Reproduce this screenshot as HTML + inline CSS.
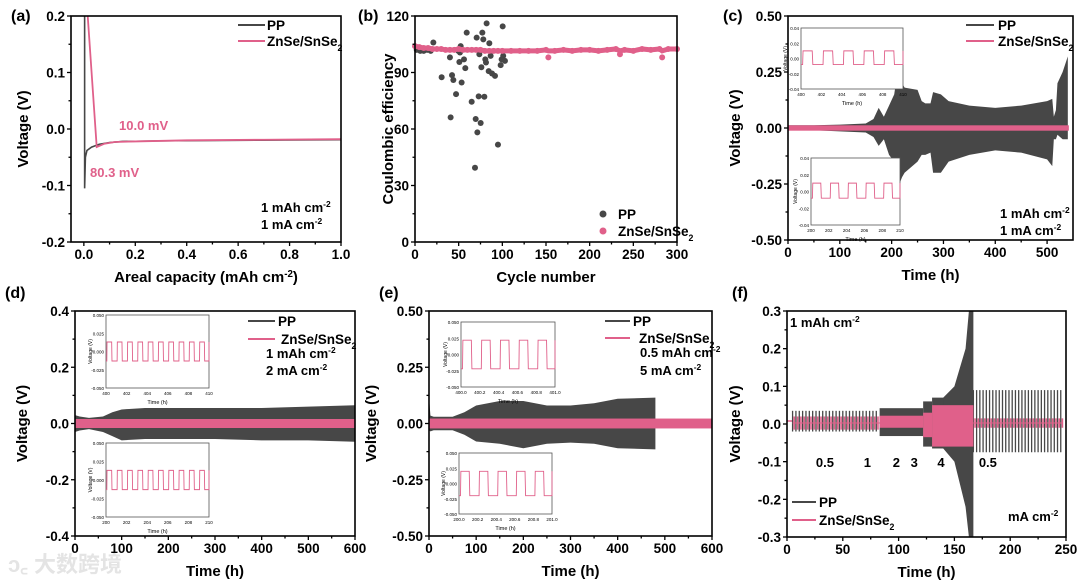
<!DOCTYPE html>
<html><head><meta charset="utf-8"><style>
html,body{margin:0;padding:0;background:#fff;}
svg{display:block;font-family:"Liberation Sans","Noto Sans CJK SC",sans-serif;font-weight:bold;}
</style></head><body>
<svg id="fig" width="1080" height="584" viewBox="0 0 1080 584" xmlns="http://www.w3.org/2000/svg">
<text x="8" y="572" font-size="22" fill="#e4e4e4">ↄ꜀ 大数跨境</text>
</svg>
<script>
// ---------- DATA ----------
// (a)
const aPPx=[0.003,0.003,0.006,0.012,0.03,0.06,0.1,0.15,0.3,0.6,1.0];
const aPPy=[0.2,-0.105,-0.05,-0.038,-0.032,-0.027,-0.024,-0.022,-0.021,-0.02,-0.019];
const aZnx=[0.015,0.05,0.08,0.12,0.2,0.4,0.7,1.0];
const aZny=[0.2,-0.032,-0.026,-0.023,-0.022,-0.02,-0.019,-0.018];
// (b)
const bPPcyc=[2,6,10,14,18,21,30.5,40,40.8,42.4,43.9,47,51.5,53.4,50.8,52.3,56.1,57.6,59.2,64.9,68.7,69.5,70.6,71.4,72.9,73.7,75.2,76,77.1,78.2,79.4,80.5,81.3,82,84.4,85.1,86.6,88.2,91.6,95,98.1,100.4,101,103,99.2,49.6];
const bPPce=[102,101.5,101.5,102,101.5,105.9,87.5,98,66.2,88.6,86,78.5,100.6,84.7,95.6,104,97,92.3,111.2,74.5,39.4,65.3,108.5,58.2,77.3,99.7,63.2,92.8,111.2,107.6,77.1,97,95.3,116.1,90.7,105.5,98.8,89.5,88.2,51.7,93.9,114.5,98.8,96.2,97,101.5];
const bZnCyc=[0,5,10,15,20,25,30,35,40,45,50,55,60,65,70,75,80,85,90,95,100,110,120,130,140,150,152.7,160,170,180,190,200,210,220,230,234.7,240,250,260,270,280,283,290,300];
const bZnCe=[104,103.5,103,103,102.5,102.5,102.5,102,102,102,102.5,102,102,102,102,102,101.5,101.5,101.5,101.5,101.5,101.5,101.5,101.5,101.5,102,98,101.5,102,101.5,102,102,101.5,102,102.5,99.7,102,101.5,102.5,102,102.5,98,102.5,102.5];
// (c)
const cT=[0,50,100,150,165,175,185,195,205,215,220,225,250,258,265,275,280,295,310,350,400,450,500,510,513,517,520,530,540];
const cUp=[0.012,0.012,0.015,0.02,0.04,0.09,0.05,0.1,0.15,0.31,0.2,0.18,0.17,0.12,0.11,0.11,0.16,0.15,0.12,0.1,0.09,0.1,0.12,0.13,0.05,0.08,0.2,0.25,0.32];
const cLo=[-0.01,-0.01,-0.015,-0.02,-0.04,-0.08,-0.05,-0.12,-0.15,-0.25,-0.22,-0.2,-0.15,-0.12,-0.12,-0.11,-0.2,-0.2,-0.15,-0.12,-0.1,-0.11,-0.14,-0.17,-0.05,-0.05,-0.03,-0.05,-0.05];
const cZnEnd=542, cZnAmp=0.012;
// (d)
const dT=[0,10,30,60,80,100,150,200,300,400,500,600];
const dUp=[0.03,0.025,0.02,0.025,0.04,0.05,0.055,0.055,0.055,0.055,0.06,0.065];
const dLo=[-0.03,-0.025,-0.02,-0.03,-0.045,-0.06,-0.055,-0.055,-0.055,-0.06,-0.06,-0.065];
const dZnAmp=0.016;
// (e)
const eT=[0,3,10,50,75,100,150,200,250,300,350,400,480];
const eUp=[0.12,0.035,0.03,0.03,0.05,0.08,0.1,0.1,0.08,0.08,0.09,0.11,0.115];
const eLo=[-0.03,-0.035,-0.03,-0.03,-0.05,-0.08,-0.09,-0.11,-0.09,-0.085,-0.09,-0.11,-0.115];
const eZnAmp=0.022;
// (f)
const fSegStart=[5,83,122,130,167];
const fSegEnd=[83,122,130,167,247];
const fPPup=[0.035,0.042,0.06,0.07,0.09];
const fPPlo=[-0.02,-0.032,-0.06,-0.065,-0.075];
const fZnUp=[0.02,0.022,0.03,0.05,0.015];
const fZnLo=[-0.015,-0.01,-0.035,-0.06,-0.01];
const fSpikeT=[140,150,155,160,163,167];
const fSpikeUp=[0.07,0.1,0.15,0.2,0.3,0.3];
const fSpikeLo=[-0.065,-0.1,-0.16,-0.22,-0.3,-0.3];

// ---------- HELPERS ----------
const svg=document.getElementById('fig');
const NS='http://www.w3.org/2000/svg';
const GREY='#474747', PINK='#e0608a';
function mk(parent,tag,attrs,txt){const e=document.createElementNS(NS,tag);for(const k in attrs)e.setAttribute(k,attrs[k]);if(txt!==undefined)e.textContent=txt;parent.appendChild(e);return e;}
function scale(d0,d1,p0,p1){return v=>p0+(v-d0)/(d1-d0)*(p1-p0);}
function supText(parent,x,y,parts,size,fill,anchor,name){
  const t=mk(parent,'text',{x:x,y:y,'font-size':size,fill:fill,'text-anchor':anchor||'start'});
  
  
  parts.forEach(p=>{mk(t,'tspan',p[1]?{'baseline-shift':p[1]==='sup'?'super':'sub','font-size':size*0.65}:{},p[0]);});
  return t;
}
function panel(cfg){
  const g=mk(svg,'g',{});
  
  
  const X=scale(cfg.xd[0],cfg.xd[1],cfg.L,cfg.R), Y=scale(cfg.yd[0],cfg.yd[1],cfg.B,cfg.T);
  const plot=mk(g,'g',{});
  
  
  const ax=mk(g,'g',{stroke:'#000','stroke-width':1.3});
  
  
  cfg.xt.forEach((v,i)=>{
    const x=X(v);
    const tk=mk(ax,'line',{x1:x,x2:x,y1:cfg.B,y2:cfg.B+4});
    
    const lb=mk(g,'text',{x:x,y:cfg.B+17,'font-size':13.5,'text-anchor':'middle'},cfg.xl[i]);
    
    
    if(i<cfg.xt.length-1){const mx=X((v+cfg.xt[i+1])/2);const m=mk(ax,'line',{x1:mx,x2:mx,y1:cfg.B,y2:cfg.B+2.5});}
  });
  cfg.yt.forEach((v,i)=>{
    const y=Y(v);
    const tk=mk(ax,'line',{x1:cfg.L-4,x2:cfg.L,y1:y,y2:y});
    
    const lb=mk(g,'text',{x:cfg.L-6,y:y+5,'font-size':13.5,'text-anchor':'end'},cfg.yl[i]);
    
    
    if(i<cfg.yt.length-1){const my=Y((v+cfg.yt[i+1])/2);const m=mk(ax,'line',{x1:cfg.L-2.5,x2:cfg.L,y1:my,y2:my});}
  });
  const frame=mk(g,'rect',{x:cfg.L,y:cfg.T,width:cfg.R-cfg.L,height:cfg.B-cfg.T,fill:'none',stroke:'#000','stroke-width':1.6});
  
  
  const pl=mk(g,'text',{x:cfg.px,y:cfg.py,'font-size':16},cfg.label);
  
  
  const yt=mk(g,'text',{x:cfg.ytx,y:(cfg.T+cfg.B)/2,'font-size':15,'text-anchor':'middle',transform:`rotate(-90 ${cfg.ytx} ${(cfg.T+cfg.B)/2})`},cfg.ytitle);
  
  
  if(cfg.xtitleParts){supText(g,(cfg.L+cfg.R)/2,cfg.B+40,cfg.xtitleParts,15,'#000','middle','x-axis-title');}
  else{const xt=mk(g,'text',{x:(cfg.L+cfg.R)/2,y:cfg.B+40,'font-size':15,'text-anchor':'middle'},cfg.xtitle);
  
  }
  return {g,plot,X,Y,cfg};
}
function ticksArr(a,b,s){const r=[];for(let v=a;v<=b+1e-9;v+=s)r.push(+v.toFixed(6));return r;}
function envelope(P,ts,up,lo,fill,name){
  let pts=ts.map((t,i)=>P.X(t)+','+P.Y(up[i]));
  for(let i=ts.length-1;i>=0;i--)pts.push(P.X(ts[i])+','+P.Y(lo[i]));
  const p=mk(P.plot,'polygon',{points:pts.join(' '),fill:fill});
  
  
  return p;
}
function band(P,t0,t1,up,lo,fill,name){
  const r=mk(P.plot,'rect',{x:P.X(t0),y:P.Y(up),width:P.X(t1)-P.X(t0),height:P.Y(lo)-P.Y(up),fill:fill});
  
  
}
function legendLine(g,x1,x2,y,color,label,tx,name,parts){
  const l=mk(g,'line',{x1:x1,x2:x2,y1:y,y2:y,stroke:color,'stroke-width':2});
  
  
  supText(g,tx,y+5,parts||[[label]],13.5,'#000','start',name);
}
const ZNPARTS=[['ZnSe/SnSe'],['2','sub']];
function inset(g,x0,y0,x1,y1,ylabels,xlabels,hi,lo,n,name){
  const ig=mk(g,'g',{});
  
  
  const fr=mk(ig,'rect',{x:x0,y:y0,width:x1-x0,height:y1-y0,fill:'#fff',stroke:'#555','stroke-width':0.8});
  
  const yv=ylabels.map(Number), ymin=Math.min(...yv), ymax=Math.max(...yv);
  const Y=scale(ymin,ymax,y1,y0);
  ylabels.forEach(l=>{const t=mk(ig,'text',{x:x0-2,y:Y(+l)+2,'font-size':4.5,'font-weight':'normal','text-anchor':'end'},l);});
  xlabels.forEach((l,i)=>{const x=x0+(x1-x0)*i/(xlabels.length-1);const t=mk(ig,'text',{x:x,y:y1+7,'font-size':4.5,'font-weight':'normal','text-anchor':'middle'},l);});
  const xt=mk(ig,'text',{x:(x0+x1)/2,y:y1+16,'font-size':5.5,'font-weight':'normal','text-anchor':'middle'},'Time (h)');
  
  const ym=(y0+y1)/2;
  const yt=mk(ig,'text',{x:x0-14,y:ym,'font-size':5,'font-weight':'normal','text-anchor':'middle',transform:`rotate(-90 ${x0-14} ${ym})`},'Voltage (V)');
  
  const w=(x1-x0)/n; let d=`M${x0} ${Y(lo)}`;
  for(let i=0;i<n;i++){const a=x0+i*w;d+=` L${a+w*0.08} ${Y(lo)} L${a+w*0.1} ${Y(hi)} L${a+w*0.55} ${Y(hi)} L${a+w*0.58} ${Y(lo)}`;}
  d+=` L${x1} ${Y(lo)} L${x1} ${Y(hi)}`;
  const p=mk(ig,'path',{d:d,fill:'none',stroke:PINK,'stroke-width':0.9});
  
}

// ---------- PANEL A ----------
const A=panel({name:'panel-a',label:'(a)',px:11,py:21,L:71,R:341,T:16,B:242,xd:[-0.05,1.0],yd:[-0.2,0.2],
  xt:ticksArr(0,1,0.2),xl:['0.0','0.2','0.4','0.6','0.8','1.0'],yt:ticksArr(-0.2,0.2,0.1),yl:['-0.2','-0.1','0.0','0.1','0.2'],
  ytx:28,ytitle:'Voltage (V)',xtitleParts:[['Areal capacity (mAh cm'],['-2','sup'],[')']]});
{const p=mk(A.plot,'polyline',{points:aPPx.map((x,i)=>A.X(x)+','+A.Y(aPPy[i])).join(' '),fill:'none',stroke:GREY,'stroke-width':1.6});


const q=mk(A.plot,'polyline',{points:aZnx.map((x,i)=>A.X(x)+','+A.Y(aZny[i])).join(' '),fill:'none',stroke:PINK,'stroke-width':1.8});

}
legendLine(A.g,238,265,25,GREY,'PP',267,'legend-pp');
legendLine(A.g,238,265,41,PINK,'',267,'legend-znse-snse2',ZNPARTS);
{const t=mk(A.g,'text',{x:119,y:130,'font-size':13,fill:PINK},'10.0 mV');
const u=mk(A.g,'text',{x:90,y:177,'font-size':13,fill:PINK},'80.3 mV');}
supText(A.g,261,212,[['1 mAh cm'],['-2','sup']],13,'#000','start','capacity-note');
supText(A.g,261,229,[['1 mA cm'],['-2','sup']],13,'#000','start','current-note');

// ---------- PANEL B ----------
const B=panel({name:'panel-b',label:'(b)',px:358,py:21,L:415,R:677,T:16,B:242,xd:[0,300],yd:[0,120],
  xt:ticksArr(0,300,50),xl:['0','50','100','150','200','250','300'],yt:ticksArr(0,120,30),yl:['0','30','60','90','120'],
  ytx:393,ytitle:'Coulombic efficiency',xtitle:'Cycle number'});
bPPcyc.forEach((c,i)=>{const d=mk(B.plot,'circle',{cx:B.X(c),cy:B.Y(bPPce[i]),r:3,fill:GREY});

});
{const l=mk(B.plot,'polyline',{points:bZnCyc.map((c,i)=>B.X(c)+','+B.Y(Math.max(bZnCe[i],101.5))).join(' '),fill:'none',stroke:PINK,'stroke-width':5});

}
bZnCyc.forEach((c,i)=>{const d=mk(B.plot,'circle',{cx:B.X(c),cy:B.Y(bZnCe[i]),r:3,fill:PINK});

});
{const d1=mk(B.g,'circle',{cx:603,cy:214,r:3.5,fill:GREY});
const t1=mk(B.g,'text',{x:618,y:219,'font-size':13.5},'PP');
const d2=mk(B.g,'circle',{cx:603,cy:231,r:3.5,fill:PINK});}
supText(B.g,618,236,ZNPARTS,13.5,'#000','start','legend-znse-snse2');

// ---------- PANEL C ----------
const C=panel({name:'panel-c',label:'(c)',px:723,py:21,L:788,R:1073,T:16,B:240,xd:[0,550],yd:[-0.5,0.5],
  xt:ticksArr(0,500,100),xl:['0','100','200','300','400','500'],yt:ticksArr(-0.5,0.5,0.25),yl:['-0.50','-0.25','0.00','0.25','0.50'],
  ytx:740,ytitle:'Voltage (V)',xtitle:'Time (h)'});
envelope(C,cT,cUp,cLo,GREY,'pp-voltage-envelope');
band(C,0,cZnEnd,cZnAmp,-cZnAmp,PINK,'znse-snse2-voltage-band');
inset(C.g,801,28,903,89,['0.04','0.02','0.00','-0.02','-0.04'],['400','402','404','406','408','410'],0.01,-0.008,5,'inset-c-400h');
inset(C.g,811,158,900,225,['0.04','0.02','0.00','-0.02','-0.04'],['200','202','204','206','208','210'],0.01,-0.008,5,'inset-c-200h');
legendLine(C.g,966,994,25,GREY,'PP',998,'legend-pp');
legendLine(C.g,966,994,41,PINK,'',998,'legend-znse-snse2',ZNPARTS);
supText(C.g,1000,218,[['1 mAh cm'],['-2','sup']],13,'#000','start','capacity-note');
supText(C.g,1000,235,[['1 mA cm'],['-2','sup']],13,'#000','start','current-note');

// ---------- PANEL D ----------
const D=panel({name:'panel-d',label:'(d)',px:5,py:298,L:75,R:355,T:311,B:536,xd:[0,600],yd:[-0.4,0.4],
  xt:ticksArr(0,600,100),xl:['0','100','200','300','400','500','600'],yt:ticksArr(-0.4,0.4,0.2),yl:['-0.4','-0.2','0.0','0.2','0.4'],
  ytx:27,ytitle:'Voltage (V)',xtitle:'Time (h)'});
envelope(D,dT,dUp,dLo,GREY,'pp-voltage-envelope');
band(D,0,600,dZnAmp,-dZnAmp,PINK,'znse-snse2-voltage-band');
inset(D.g,106,315,209,388,['0.050','0.025','0.000','-0.025','-0.050'],['400','402','404','406','408','410'],0.013,-0.013,10,'inset-d-400h');
inset(D.g,106,443,209,517,['0.050','0.025','0.000','-0.025','-0.050'],['200','202','204','206','208','210'],0.013,-0.013,10,'inset-d-200h');
legendLine(D.g,248,275,321,GREY,'PP',278,'legend-pp');
legendLine(D.g,248,275,339,PINK,'',281,'legend-znse-snse2',ZNPARTS);
supText(D.g,266,358,[['1 mAh cm'],['-2','sup']],13,'#000','start','capacity-note');
supText(D.g,266,375,[['2 mA cm'],['-2','sup']],13,'#000','start','current-note');

// ---------- PANEL E ----------
const E=panel({name:'panel-e',label:'(e)',px:379,py:298,L:429,R:712,T:311,B:536,xd:[0,600],yd:[-0.5,0.5],
  xt:ticksArr(0,600,100),xl:['0','100','200','300','400','500','600'],yt:ticksArr(-0.5,0.5,0.25),yl:['-0.50','-0.25','0.00','0.25','0.50'],
  ytx:376,ytitle:'Voltage (V)',xtitle:'Time (h)'});
envelope(E,eT,eUp,eLo,GREY,'pp-voltage-envelope');
band(E,0,600,eZnAmp,-eZnAmp,PINK,'znse-snse2-voltage-band');
inset(E.g,461,322,555,387,['0.050','0.025','0.000','-0.025','-0.050'],['400.0','400.2','400.4','400.6','400.8','401.0'],0.022,-0.022,5,'inset-e-400h');
inset(E.g,459,453,552,514,['0.050','0.025','0.000','-0.025','-0.050'],['200.0','200.2','200.4','200.6','200.8','201.0'],0.02,-0.02,5,'inset-e-200h');
legendLine(E.g,605,630,321,GREY,'PP',633,'legend-pp');
legendLine(E.g,605,630,338,PINK,'',639,'legend-znse-snse2',ZNPARTS);
supText(E.g,640,357,[['0.5 mAh cm'],['-2','sup']],13,'#000','start','capacity-note');
supText(E.g,640,375,[['5 mA cm'],['-2','sup']],13,'#000','start','current-note');

// ---------- PANEL F ----------
const F=panel({name:'panel-f',label:'(f)',px:732,py:298,L:787,R:1066,T:311,B:537,xd:[0,250],yd:[-0.3,0.3],
  xt:ticksArr(0,250,50),xl:['0','50','100','150','200','250'],yt:ticksArr(-0.3,0.3,0.1),yl:['-0.3','-0.2','-0.1','0.0','0.1','0.2','0.3'],
  ytx:740,ytitle:'Voltage (V)',xtitle:'Time (h)'});
{const l=mk(F.plot,'line',{x1:F.X(0),x2:F.X(5),y1:F.Y(0.008),y2:F.Y(0.008),stroke:PINK,'stroke-width':1.5});
}
fSegStart.forEach((s,i)=>{
  const e=fSegEnd[i];
  if(i===0||i===4){
    const step=i===0?3.0:2.9;
    for(let t=s;t<e-0.5;t+=step){
      const a=mk(F.plot,'line',{x1:F.X(t),x2:F.X(t),y1:F.Y(fPPup[i]),y2:F.Y(fPPlo[i]),stroke:GREY,'stroke-width':1.3});
      
      const z=mk(F.plot,'line',{x1:F.X(t+1.5),x2:F.X(t+1.5),y1:F.Y(fZnUp[i]),y2:F.Y(fZnLo[i]),stroke:PINK,'stroke-width':1.6});
      
    }
    const zl=mk(F.plot,'line',{x1:F.X(s),x2:F.X(e),y1:F.Y((fZnUp[i]+fZnLo[i])/2),y2:F.Y((fZnUp[i]+fZnLo[i])/2),stroke:PINK,'stroke-width':1});
    
  } else {
    band(F,s,e,fPPup[i],fPPlo[i],GREY,'pp-segment');
  }
});
envelope(F,fSpikeT,fSpikeUp,fSpikeLo,GREY,'pp-failure-spike');
[1,2,3].forEach(i=>band(F,fSegStart[i],fSegEnd[i],fZnUp[i],fZnLo[i],PINK,'znse-snse2-segment'));
const fRateLbl=['0.5','1','2','3','4','0.5'];
const fRateT=[34,72,98,114,138,180];
fRateLbl.forEach((l,i)=>{const t=mk(F.g,'text',{x:F.X(fRateT[i]),y:467,'font-size':13,'text-anchor':'middle'},l);

});
supText(F.g,790,327,[['1 mAh cm'],['-2','sup']],13,'#000','start','capacity-note');
supText(F.g,1008,521,[['mA cm'],['-2','sup']],13,'#000','start','unit-note');
legendLine(F.g,792,816,502,GREY,'PP',819,'legend-pp');
legendLine(F.g,792,816,520,PINK,'',819,'legend-znse-snse2',ZNPARTS);
</script>
</body></html>
